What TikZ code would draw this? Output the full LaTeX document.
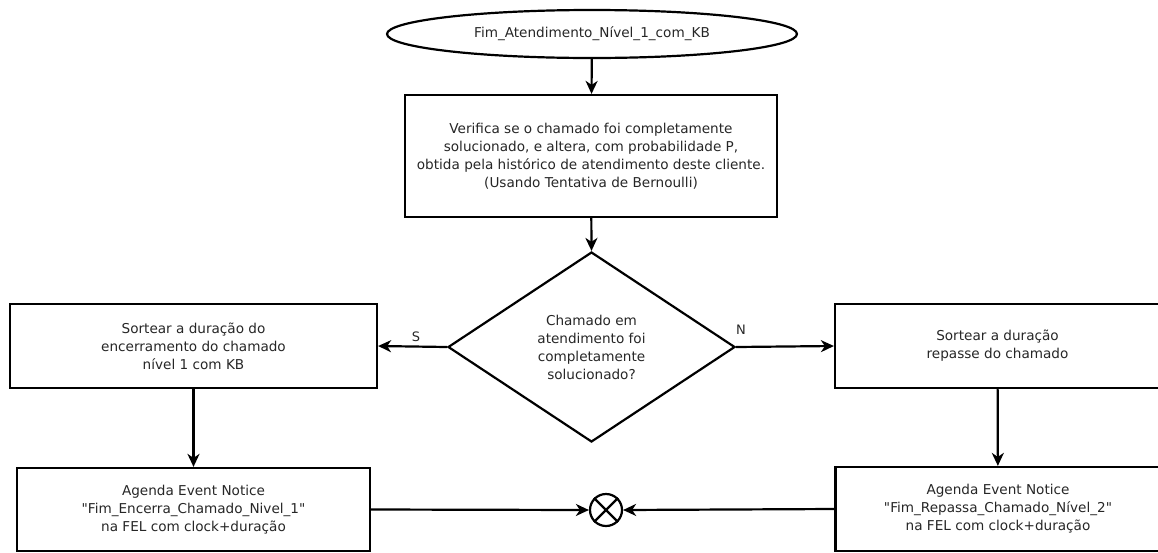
\documentclass[tikz,border=0pt]{standalone}
\usepackage{fontspec}
\setmainfont{DejaVu Sans}[Ligatures=TeXOff]
\usetikzlibrary{shapes.geometric,arrows.meta}
\begin{document}
\begin{tikzpicture}[x=1pt,y=-1pt,
  every node/.style={font=\fontsize{13.6}{18}\selectfont, text=black!85},
  proc/.style={draw, line width=2.2pt, rectangle, align=center, inner sep=0pt},
  term/.style={draw, line width=2.2pt, ellipse, inner sep=0pt, minimum width=410pt, minimum height=48pt},
  decis/.style={draw, line width=2.2pt, diamond, aspect=1.5, inner sep=0pt, align=center},
  flow/.style={line width=2.2pt, -{Stealth[length=13pt,width=12pt,inset=4pt]}},
  lbl/.style={font=\fontsize{13}{15}\selectfont}
]
\useasboundingbox (0,0) rectangle (1158,552);

\node[term] (start) at (592,34) {Fim\_Atendimento\_Nível\_1\_com\_KB};

\node[proc, minimum width=372pt, minimum height=122pt] (verif) at (591,156)
  {Verifica se o chamado foi completamente\\
   solucionado, e altera, com probabilidade P,\\
   obtida pela histórico de atendimento deste cliente.\\
   (Usando Tentativa de Bernoulli)};

\node[decis, minimum width=287pt, minimum height=190pt] (dec) at (591.5,347) {};
\node[align=center] (dectxt) at (591.5,347)
  {Chamado em\\atendimento foi\\completamente\\solucionado?};

\node[proc, minimum width=367pt, minimum height=84pt] (encerra) at (193.5,346)
  {Sortear a duração do\\encerramento do chamado\\nível 1 com KB};

\node[proc, minimum width=325pt, minimum height=84pt] (repasse) at (997.5,346)
  {Sortear a duração\\repasse do chamado};

\node[proc, minimum width=353pt, minimum height=83pt] (agenda1) at (193.5,509.5)
  {Agenda Event Notice\\"Fim\_Encerra\_Chamado\_Nivel\_1"\\na FEL com clock+duração};

\node[proc, minimum width=325pt, minimum height=84pt] (agenda2) at (998,509)
  {Agenda Event Notice\\"Fim\_Repassa\_Chamado\_Nível\_2"\\na FEL com clock+duração};

\node[draw, circle, line width=2.2pt, minimum size=32pt, inner sep=0pt] (join) at (606,510) {};
\draw[line width=2.2pt] (join.north west) -- (join.south east)
                        (join.north east) -- (join.south west);

\draw[flow] (start) -- (verif);
\draw[flow] (verif) -- (dec.north);
\draw[flow] (dec.west) -- node[lbl, above, pos=0.45] {S} (encerra.east);
\draw[flow] (dec.east) -- node[lbl, above, pos=0.05, yshift=8pt] {N} (repasse.west);
\draw[flow] (encerra) -- (agenda1);
\draw[flow] (repasse) -- (agenda2);
\draw[flow] (agenda1.east) -- (join.west);
\draw[flow] (agenda2.west) -- (join.east);
\end{tikzpicture}
\end{document}
